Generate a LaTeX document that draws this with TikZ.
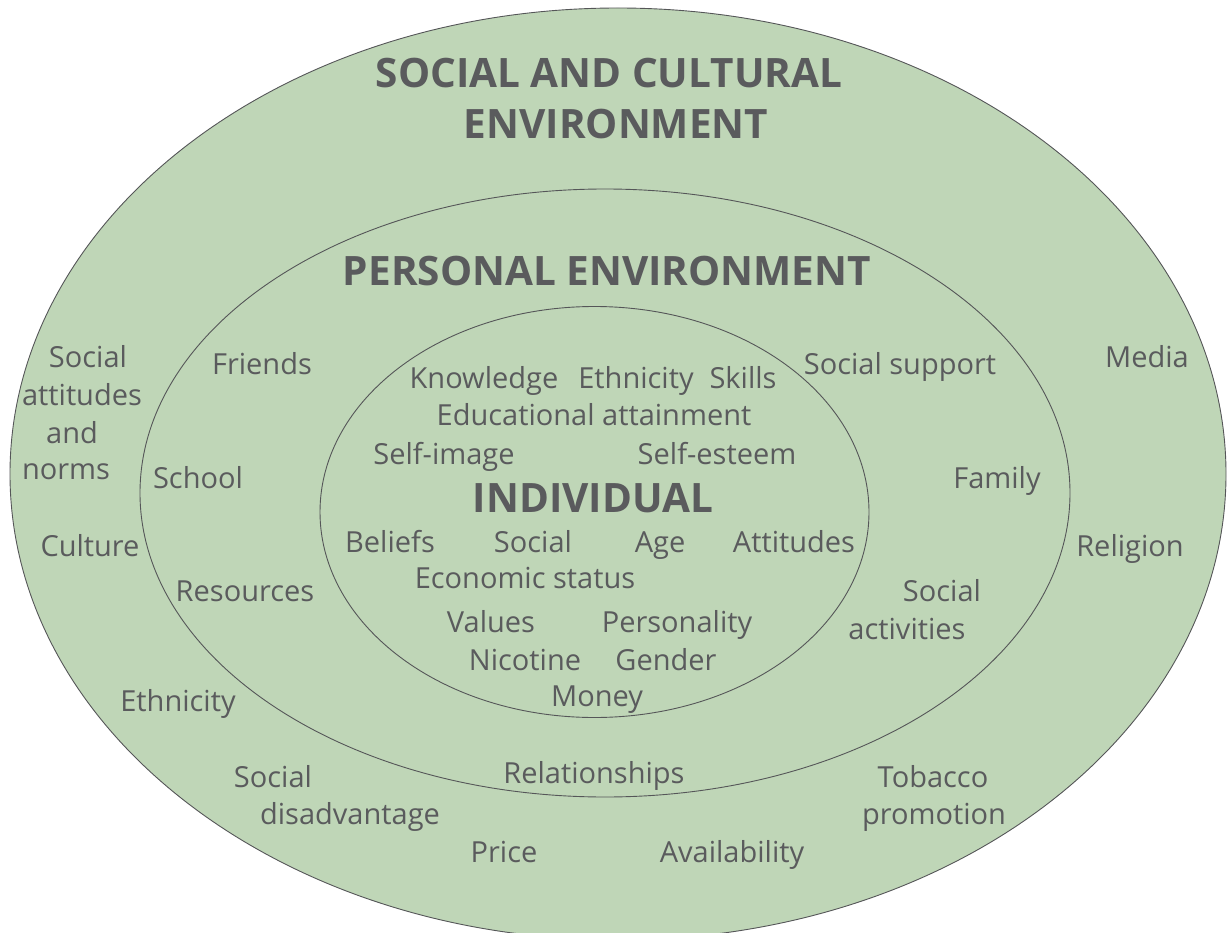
\documentclass[tikz,border=0pt]{standalone}
\usepackage{fontspec}
\setmainfont{Open Sans}
\definecolor{ringfill}{HTML}{BFD6B7}
\definecolor{ink}{HTML}{5A5B5D}
\definecolor{edge}{HTML}{555658}
\begin{document}
\begin{tikzpicture}[x=1pt,y=-1pt,
  lab/.style={font=\fontsize{29}{32}\selectfont, text=ink, anchor=base, inner sep=0pt},
  ttl/.style={font=\fontsize{40.5}{44}\selectfont\bfseries, text=ink, anchor=base, inner sep=0pt},
  ring/.style={draw=edge, line width=0.9pt, fill=ringfill}]
\useasboundingbox (0,0) rectangle (1228,933);
\clip (0,0) rectangle (1228,933);
\path[ring] (618,474) ellipse [x radius=608, y radius=466];
\path[ring] (605,493) ellipse [x radius=465, y radius=304];
\path[ring] (594.5,512) ellipse [x radius=274.5, y radius=205.5];
% titles
\node[ttl] (t1) at (609,88) {SOCIAL AND CULTURAL};
\node[ttl] (t2) at (616,139) {ENVIRONMENT};
\node[ttl] (t3) at (607,285) {PERSONAL ENVIRONMENT};
\node[ttl] (t4) at (593,512) {INDIVIDUAL};
% outer ring
\node[lab] (o1a) at (88,367) {Social};
\node[lab] (o1b) at (82,405) {attitudes};
\node[lab] (o1c) at (72,443) {and};
\node[lab] (o1d) at (66,479) {norms};
\node[lab] (o2) at (90,556) {Culture};
\node[lab] (o3) at (178,711) {Ethnicity};
\node[lab] (o4a) at (273,787) {Social};
\node[lab] (o4b) at (350,824) {disadvantage};
\node[lab] (o5) at (504,862) {Price};
\node[lab] (o6) at (732,862) {Availability};
\node[lab] (o7a) at (933,787) {Tobacco};
\node[lab] (o7b) at (934,824) {promotion};
\node[lab] (o8) at (1130,556) {Religion};
\node[lab] (o9) at (1147,367) {Media};
% middle ring
\node[lab] (m1) at (262,374) {Friends};
\node[lab] (m2) at (198,488) {School};
\node[lab] (m3) at (245,601) {Resources};
\node[lab] (m4) at (594,783) {Relationships};
\node[lab] (m5) at (900,374) {Social support};
\node[lab] (m6) at (997,488) {Family};
\node[lab] (m7a) at (942,601) {Social};
\node[lab] (m7b) at (907,639) {activities};
% inner
\node[lab] (i1) at (484,388) {Knowledge};
\node[lab] (i2) at (636,388) {Ethnicity};
\node[lab] (i3) at (743,388) {Skills};
\node[lab] (i4) at (594,425) {Educational attainment};
\node[lab] (i5) at (444,464) {Self-image};
\node[lab] (i6) at (717,464) {Self-esteem};
\node[lab] (i7) at (390,552) {Beliefs};
\node[lab] (i8) at (533,552) {Social};
\node[lab] (i9) at (660,552) {Age};
\node[lab] (i10) at (794,552) {Attitudes};
\node[lab] (i11) at (525,588) {Economic status};
\node[lab] (i12) at (491,632) {Values};
\node[lab] (i13) at (677,632) {Personality};
\node[lab] (i14) at (525,670) {Nicotine};
\node[lab] (i15) at (666,670) {Gender};
\node[lab] (i16) at (597,706) {Money};
\end{tikzpicture}
\end{document}
